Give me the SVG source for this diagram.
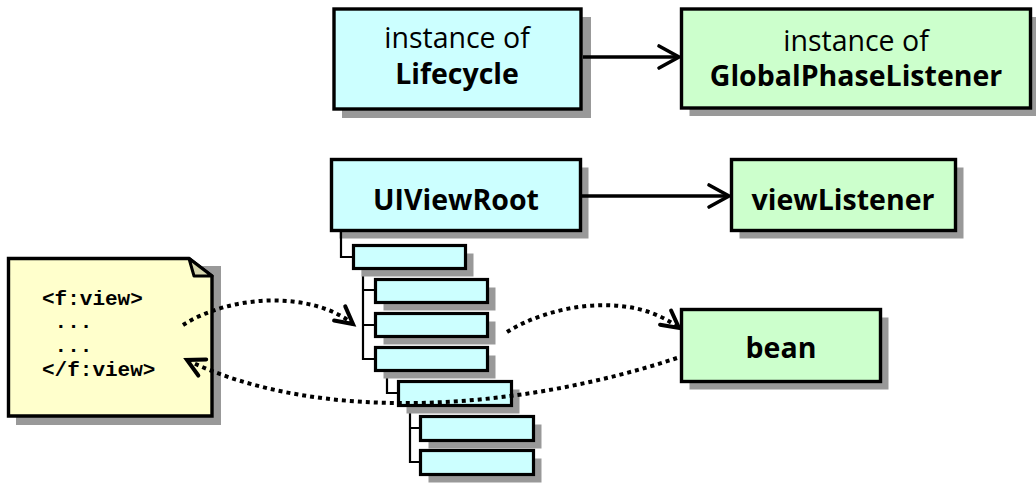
<svg xmlns="http://www.w3.org/2000/svg" width="1036" height="483" viewBox="0 0 1036 483">
<style>
.sh{fill:#999999;stroke:none}
.cy{fill:#ccffff;stroke:#000;stroke-width:3.4}
.gr{fill:#ccffcc;stroke:#000;stroke-width:3.4}
.sm{fill:#ccffff;stroke:#000;stroke-width:3.2}
.t{font-family:"Open Sans","Noto Sans",sans-serif;font-size:28.5px;text-anchor:middle;fill:#000}
.b{font-weight:bold}
.code{font-family:"Liberation Mono","Courier New",monospace;font-weight:bold;font-size:21px;fill:#000;white-space:pre}
.ln{fill:none;stroke:#000;stroke-width:2.2}
.solid{fill:none;stroke:#000;stroke-width:3.4}
.dot{fill:none;stroke:#000;stroke-width:4;stroke-dasharray:4 4}
</style>
<defs>
<marker id="ah" markerUnits="userSpaceOnUse" markerWidth="26" markerHeight="26" refX="21" refY="12" orient="auto" overflow="visible">
<path d="M1,1 L21,12 L1,23" fill="none" stroke="#000" stroke-width="3.6" stroke-linecap="round" stroke-linejoin="miter"/>
</marker>
<marker id="ahd" markerUnits="userSpaceOnUse" markerWidth="22" markerHeight="22" refX="18" refY="10" orient="auto" overflow="visible">
<path d="M1,1 L18,10 L1,19" fill="none" stroke="#000" stroke-width="4" stroke-linecap="round"/>
</marker>
</defs>

<g id="lifecycle">
<rect class="sh" x="342" y="17" width="249" height="101"/>
<rect class="cy" x="334" y="9" width="247" height="100"/>
<text class="t" x="457" y="48">instance of</text>
<text class="t b" x="457" y="84">Lifecycle</text>
</g>

<g id="globalPhaseListener">
<rect class="sh" x="689.5" y="17" width="349" height="99"/>
<rect class="gr" x="681.5" y="9" width="349" height="99"/>
<text class="t" x="856" y="51">instance of</text>
<text class="t b" x="856" y="86">GlobalPhaseListener</text>
</g>

<g id="uiViewRoot">
<rect class="sh" x="339.5" y="167.5" width="249" height="71"/>
<rect class="cy" x="331.5" y="159.5" width="249" height="71"/>
<text class="t b" x="456" y="210">UIViewRoot</text>
</g>

<g id="viewListener">
<rect class="sh" x="739.5" y="167.5" width="224" height="71"/>
<rect class="gr" x="731.5" y="159.5" width="224" height="71"/>
<text class="t b" x="843" y="210">viewListener</text>
</g>

<g id="bean">
<rect class="sh" x="689.5" y="317.5" width="199" height="72"/>
<rect class="gr" x="681.5" y="309.5" width="199" height="72"/>
<text class="t b" x="781" y="358">bean</text>
</g>

<g id="note">
<path class="sh" d="M16,266 L221,266 L221,425 L16,425 Z"/>
<path d="M8.5,258.5 L189,258.5 L212,276 L212,416 L8.5,416 Z" fill="#ffffcc" stroke="#000" stroke-width="3.4" stroke-linejoin="miter"/>
<path d="M189,258.5 L194,276 L212,276 Z" fill="#d6d6ad" stroke="#000" stroke-width="3" stroke-linejoin="round"/>
<text class="code" x="42" y="305">&lt;f:view&gt;</text>
<text class="code" x="42" y="328"> ...</text>
<text class="code" x="42" y="352"> ...</text>
<text class="code" x="42" y="376">&lt;/f:view&gt;</text>
</g>

<g id="tree">
<path class="ln" d="M341,231 V257 H353"/>
<path class="ln" d="M363,268 V290 H375 M363,290 V325 H375 M363,325 V359 H375"/>
<path class="ln" d="M387,372 V393 H398"/>
<path class="ln" d="M410,406 V428 H420 M410,428 V462 H420"/>
<g id="tree-a"><rect class="sh" x="361.5" y="253.5" width="112" height="23"/><rect class="sm" x="353.5" y="245.5" width="112" height="23"/></g>
<g id="tree-b1"><rect class="sh" x="383.5" y="287.5" width="112" height="23"/><rect class="sm" x="375.5" y="279.5" width="112" height="23"/></g>
<g id="tree-b2"><rect class="sh" x="383.5" y="321.5" width="112" height="23"/><rect class="sm" x="375.5" y="313.5" width="112" height="23"/></g>
<g id="tree-b3"><rect class="sh" x="383.5" y="355.5" width="112" height="23"/><rect class="sm" x="375.5" y="347.5" width="112" height="23"/></g>
<g id="tree-c"><rect class="sh" x="406.5" y="389.5" width="113" height="24"/><rect class="sm" x="398.5" y="381.5" width="113" height="24"/></g>
<g id="tree-d1"><rect class="sh" x="428.5" y="424.5" width="113" height="24"/><rect class="sm" x="420.5" y="416.5" width="113" height="24"/></g>
<g id="tree-d2"><rect class="sh" x="428.5" y="458.5" width="113" height="24"/><rect class="sm" x="420.5" y="450.5" width="113" height="24"/></g>
</g>

<g id="connectors">
<path class="solid" d="M583,57 H679" marker-end="url(#ah)"/>
<path class="solid" d="M582,196 H729" marker-end="url(#ah)"/>
<path class="dot" d="M183,325 C230,295 310,290 353,324" marker-end="url(#ahd)"/>
<path class="dot" d="M507,332 C550,305 630,290 679,328" marker-end="url(#ahd)"/>
<path class="dot" d="M677,358 C520,410 320,425 187,360" marker-end="url(#ahd)"/>
</g>
</svg>
